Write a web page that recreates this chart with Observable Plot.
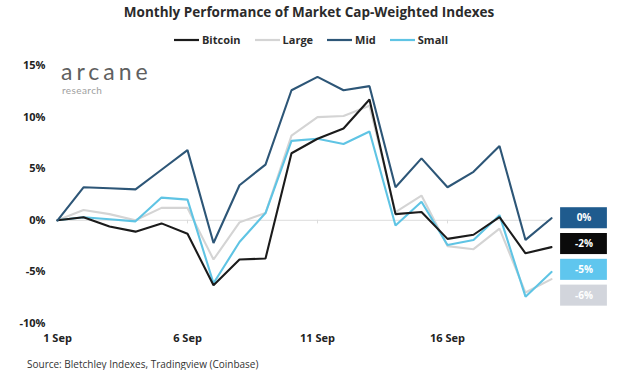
<!DOCTYPE html>
<html>
<head>
<meta charset="utf-8">
<script src="https://cdn.jsdelivr.net/npm/d3@7"></script>
<script src="https://cdn.jsdelivr.net/npm/@observablehq/plot@0.6"></script>
<style>
  body { margin:0; width:640px; height:370px; position:relative; background:#fff; overflow:hidden; font-family:"Open Sans", sans-serif; }
  #title { position:absolute; top:3px; left:0; width:618px; text-align:center; font-weight:700; font-size:13.5px; color:#2b2b2b; }
  #legend { position:absolute; top:32px; left:0; width:622px; display:flex; justify-content:center; gap:14px; font-weight:700; font-size:11px; color:#2b2b2b; }
  #legend .item { display:flex; align-items:center; gap:3px; }
  #chart { position:absolute; top:0; left:0; }
  #logo { position:absolute; left:61px; top:60px; color:#606060; font-family:"Lato", sans-serif; font-weight:400; font-size:23px; letter-spacing:4px; line-height:23px; }
  #logo2 { position:absolute; left:62px; top:85px; color:#a0a0a0; font-family:"Lato", sans-serif; font-weight:400; font-size:10px; letter-spacing:0.4px; line-height:11px; }
  #source { position:absolute; left:27px; top:357px; font-size:10px; color:#333; }
</style>
</head>
<body>
<div id="chart"></div>
<div id="title">Monthly Performance of Market Cap-Weighted Indexes</div>
<div id="legend"></div>
<div id="logo">arcane</div>
<div id="logo2">research</div>
<div id="source">Source: Bletchley Indexes, Tradingview (Coinbase)</div>
<script>
const days = [1,2,3,4,5,6,7,8,9,10,11,12,13,14,15,16,17,18,19,20];
const seriesNames = ["Bitcoin","Large","Mid","Small"];
const bitcoin = [0,0.3,-0.6,-1.1,-0.3,-1.3,-6.3,-3.8,-3.7,6.5,7.9,8.9,11.7,0.6,0.8,-1.8,-1.4,0.3,-3.2,-2.6];
const large   = [0,1.0,0.6,0.0,1.2,1.2,-3.8,-0.2,0.7,8.2,10.0,10.1,11.1,0.8,2.4,-2.5,-2.8,-0.8,-7.0,-5.7];
const mid     = [0,3.2,3.1,3.0,4.9,6.8,-2.2,3.4,5.4,12.6,13.9,12.6,13.0,3.2,6.0,3.2,4.7,7.2,-1.9,0.2];
const small   = [0,0.3,0.1,-0.1,2.2,2.0,-6.1,-2.1,0.7,7.7,7.9,7.4,8.6,-0.5,1.8,-2.4,-1.9,0.5,-7.4,-5.0];
const yTicks = [-10,-5,0,5,10,15];
const xTicks = [1,6,11,16];
const xTickLabels = ["1 Sep","6 Sep","11 Sep","16 Sep"];
const endLabels = ["0%","-2%","-5%","-6%"];        // Mid, Bitcoin, Small, Large
const endOrder = ["Mid","Bitcoin","Small","Large"];

const colors = {Bitcoin:"#1b1b1b", Large:"#d4d4d4", Mid:"#2d5677", Small:"#5fc4e4"};
const boxColors = {Mid:"#1f5b8e", Bitcoin:"#0b0b0b", Small:"#5fc6ee", Large:"#d2d5dc"};

const valuesBy = {Bitcoin:bitcoin, Large:large, Mid:mid, Small:small};
const drawOrder = ["Large","Small","Bitcoin","Mid"];
const rows = [];
for (const s of drawOrder) days.forEach((d,i) => rows.push({series:s, day:d, value:valuesBy[s][i]}));

// end-label boxes stacked below the highest final value
const finals = endOrder.map(s => valuesBy[s][valuesBy[s].length-1]);
const top0 = d3.max(finals);
const boxes = endOrder.map((s,i) => ({series:s, label:endLabels[i], y:top0 - 2.5*i}));
const lastDay = days[days.length-1];

// legend
const leg = document.getElementById("legend");
for (const s of seriesNames) {
  const it = document.createElement("div"); it.className = "item";
  it.innerHTML = `<svg width="25" height="6"><line x1="0" x2="25" y1="3" y2="3" stroke="${colors[s]}" stroke-width="2.2"/></svg><span>${s}</span>`;
  leg.appendChild(it);
}

const chart = Plot.plot({
  width: 640, height: 370,
  marginLeft: 57, marginRight: 89, marginTop: 65, marginBottom: 47,
  x: {domain: [1, 20]},
  y: {domain: [-10, 15]},
  style: {fontFamily: "'Open Sans', sans-serif", fontSize: "11px", color: "#222", background: "transparent"},
  marks: [
    Plot.ruleY([0], {stroke: "#dcdcdc", strokeWidth: 1}),
    Plot.ruleX(xTicks.slice(1), {y1: 0, y2: -0.35, stroke: "#dcdcdc"}),
    Plot.axisY({ticks: yTicks, tickFormat: d => d + "%", tickSize: 0, tickPadding: 12, fontWeight: 700, label: null}),
    Plot.axisX({ticks: xTicks, tickFormat: d => xTickLabels[xTicks.indexOf(d)], tickSize: 0, tickPadding: 11, fontWeight: 700, label: null}),
    Plot.line(rows, {x: "day", y: "value", z: "series", stroke: d => colors[d.series], strokeWidth: 2.1, strokeLinejoin: "miter"}),
    Plot.rect(boxes, {x1: () => lastDay + 0.35, x2: () => lastDay + 2.15, y1: d => d.y - 1.02, y2: d => d.y + 1.02, fill: d => boxColors[d.series]}),
    Plot.text(boxes, {x: () => lastDay + 1.25, y: "y", text: "label", fill: "white", fontWeight: 700, fontSize: 10})
  ]
});
document.getElementById("chart").appendChild(chart);
</script>
</body>
</html>
